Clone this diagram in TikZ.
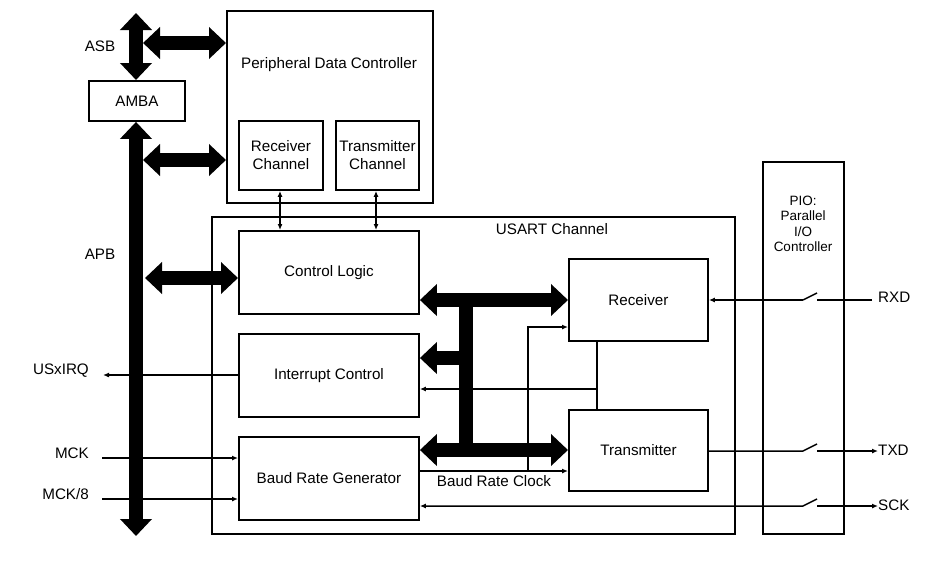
\documentclass[tikz,border=0pt]{standalone}
\usepackage{fontspec}
\setmainfont{Liberation Sans}
\usetikzlibrary{arrows.meta}
\begin{document}
\begin{tikzpicture}[x=1pt,y=-1pt,
  box/.style={draw,line width=1.9pt,anchor=north west,inner sep=0pt,align=center,font=\fontsize{15.2}{18}\selectfont},
  lbl/.style={inner sep=0pt,font=\fontsize{15.2}{18}\selectfont},
  bus/.style={line width=13.5pt,{Triangle[width=31pt,length=17pt]}-{Triangle[width=31pt,length=17pt]}},
  busone/.style={line width=13.5pt,-{Triangle[width=31pt,length=17pt]}},
  sig/.style={line width=1.5pt,-{Latex[length=6pt,width=5pt]}},
  sigtwo/.style={line width=1.5pt,{Latex[length=6pt,width=5pt]}-{Latex[length=6pt,width=5pt]}},
  wire/.style={line width=1.5pt}
]
\useasboundingbox (0,0) rectangle (947,563);
% boxes
\node[box,minimum width=206,minimum height=192] (pdc) at (226,10) {};
\node[lbl] (pdct) at (329,65) {Peripheral Data Controller};
\node[box,minimum width=84,minimum height=69] (rxch) at (238,120) {Receiver\\Channel};
\node[box,minimum width=83,minimum height=69] (txch) at (335,120) {Transmitter\\Channel};
\node[box,minimum width=96,minimum height=40] (amba) at (88,80) {AMBA};
\node[box,minimum width=523,minimum height=317] (usart) at (211,216) {};
\node[lbl] (usartt) at (552,229) {USART Channel};
\node[box,minimum width=180,minimum height=83] (ctl) at (238,230) {Control Logic};
\node[box,minimum width=180,minimum height=83] (irq) at (238,333) {Interrupt Control};
\node[box,minimum width=180,minimum height=83] (brg) at (238,436) {Baud Rate Generator};
\node[box,minimum width=139,minimum height=82] (rx) at (568,258) {Receiver};
\node[box,minimum width=139,minimum height=81] (tx) at (568,409) {Transmitter};
\node[box,minimum width=81,minimum height=372] (pio) at (762,161) {};
\node[inner sep=0pt,align=center,font=\fontsize{13.5}{15.5}\selectfont] (piot) at (803,224) {PIO:\\Parallel\\I/O\\Controller};
% outside labels
\node[lbl] (asb) at (100,46) {ASB};
\node[lbl] (apb) at (100,254) {APB};
\node[lbl,anchor=east] (usxirq) at (89,371) {USxIRQ};
\node[lbl,anchor=east] (mck) at (89,453) {MCK};
\node[lbl,anchor=east] (mck8) at (89,494) {MCK/8};
\node[lbl,anchor=west] (rxd) at (878,297) {RXD};
\node[lbl,anchor=west] (txd) at (878,450) {TXD};
\node[lbl,anchor=west] (sck) at (878,505) {SCK};
\node[lbl] (brc) at (494,481) {Baud Rate Clock};
% system buses
\draw[bus] (136,13) -- (amba.north -| 136,0);
\draw[bus] (amba.south -| 136,0) -- (136,536);
\draw[bus] (143,43) -- (pdc.west |- 0,43);
\draw[bus] (143,160) -- (pdc.west |- 0,160);
\draw[bus] (145,278) -- (ctl.west |- 0,278);
% internal bus
\coordinate (bt) at (466,300);
\coordinate (bb) at (466,450);
\draw[line width=14pt] (466,293) -- (466,457);
\draw[bus] (ctl.east |- bt) -- (rx.west |- bt);
\draw[busone] (466,358) -- (irq.east |- 0,358);
\draw[bus] (brg.east |- bb) -- (tx.west |- bb);
% PDC channel links
\draw[sigtwo] (rxch.south -| 280,0) -- (ctl.north -| 280,0);
\draw[sigtwo] (txch.south -| 376,0) -- (ctl.north -| 376,0);
% baud rate clock
\draw[sig] (brg.east |- 0,471) -- (tx.west |- 0,471);
\coordinate (bk) at (528,471);
\draw[sig] (bk) -- (528,327) -- (rx.west |- 0,327);
% receiver/transmitter to interrupt
\draw[wire] (rx.south -| 597,0) -- (tx.north -| 597,0);
\draw[sig] (597,389) -- (irq.east |- 0,389);
% interrupt out
\draw[sig] (irq.west |- 0,375) -- (103,375);
% clocks in
\draw[sig] (102,458) -- (brg.west |- 0,458);
\draw[sig] (102,499) -- (brg.west |- 0,499);
% RXD
\coordinate (rxsw) at (817,300);
\draw[wire] (rxd.west |- rxsw) ++(-6,0) -- (rxsw);
\draw[wire] (817,300) ++(-14,0) -- ++(14,-7);
\draw[sig] (803,300) -- (rx.east |- 0,300);
% TXD
\draw[wire] (tx.east |- 0,451) -- (803,451) -- (817,444);
\draw[sig] (817,451) -- (txd.west |- 0,451);
% SCK
\draw[wire,{Latex[length=6pt,width=5pt]}-] (brg.east |- 0,506) -- (803,506) -- (817,499);
\draw[sig] (817,506) -- (sck.west |- 0,506);
\end{tikzpicture}
\end{document}
